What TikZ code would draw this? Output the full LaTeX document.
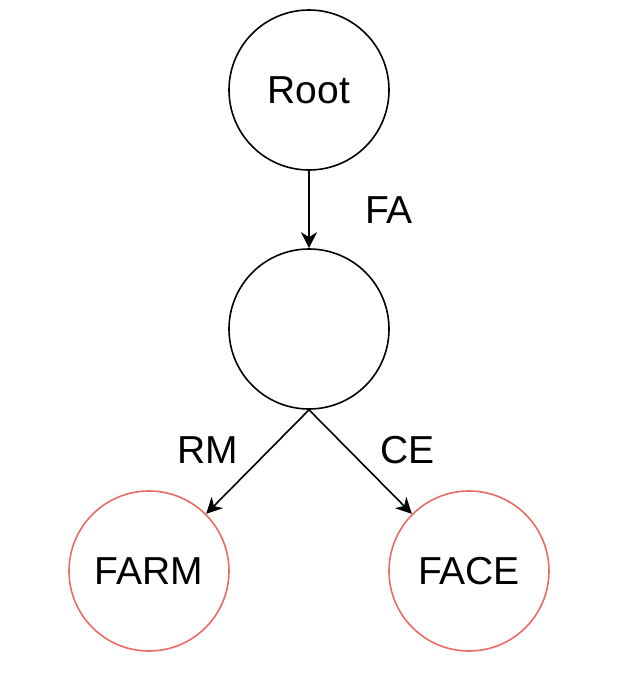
\documentclass[tikz,border=0pt]{standalone}
\usepackage{fontspec}
\setmainfont{Liberation Sans}
\usetikzlibrary{arrows.meta}
\definecolor{redline}{HTML}{EA6B66}
\begin{document}
\begin{tikzpicture}[x=1pt,y=-1pt,
  blackcirc/.style={circle,draw=black,line width=1.6pt,minimum size=160pt,inner sep=0pt,font=\fontsize{39}{42}\selectfont},
  redcirc/.style={circle,draw=redline,line width=1.6pt,minimum size=160pt,inner sep=0pt,font=\fontsize{39}{42}\selectfont},
  edgelabel/.style={inner sep=0pt,font=\fontsize{39}{42}\selectfont},
  conn/.style={line width=1.6pt,-{Stealth[length=16pt,width=16pt,inset=5pt]}}]
\useasboundingbox (0,0) rectangle (620,680);
\node[blackcirc] (root) at (309,90) {Root};
\node[blackcirc] (mid) at (309,329) {};
\node[redcirc] (farm) at (149,571) {FARM};
\node[redcirc] (face) at (469,571) {FACE};
\draw[conn] (root.south) -- (mid.north);
\draw[conn] (mid.south) -- (farm.north east);
\draw[conn] (mid.south) -- (face.north west);
\node[edgelabel] (fa) at (389,210) {FA};
\node[edgelabel] (rm) at (208,450) {RM};
\node[edgelabel] (ce) at (407.5,450) {CE};
\end{tikzpicture}
\end{document}
